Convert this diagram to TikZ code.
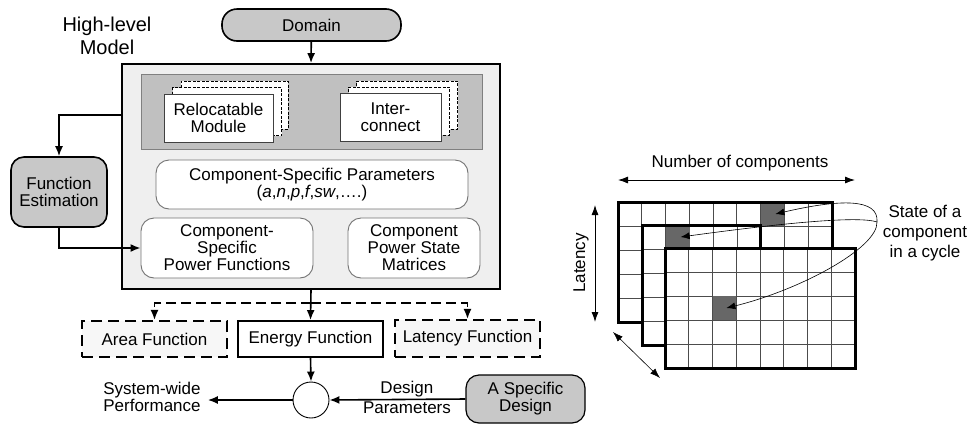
\documentclass[tikz,border=0pt]{standalone}
\usepackage{fontspec}
\setmainfont{Liberation Sans}
\usepackage{xcolor}
\usetikzlibrary{arrows.meta}
\usetikzlibrary{positioning}

\definecolor{panelgray}{HTML}{EFEFEF}
\definecolor{libgray}{HTML}{C0C0C0}
\definecolor{pillgray}{HTML}{C8C8C8}
\definecolor{cellgray}{HTML}{676767}

\begin{document}
\begin{tikzpicture}[x=1pt, y=-1pt,
  every node/.style={font=\fontsize{17}{17}\selectfont, align=center, inner sep=0pt},
  pill/.style={draw, line width=1.6pt, fill=pillgray, rounded corners=15pt},
  frame/.style={draw, line width=1.8pt, fill=panelgray},
  libbox/.style={draw=black!50, line width=0.9pt, fill=libgray},
  stackbox/.style={draw, line width=0.8pt, dash pattern=on 3pt off 1.5pt, fill=white},
  front/.style={draw=black!75, line width=0.9pt, fill=white},
  soft/.style={draw=black!55, line width=0.9pt, fill=white, rounded corners=13pt},
  solidbox/.style={draw, line width=1.8pt, fill=white},
  dashbox/.style={draw, line width=2.2pt, dash pattern=on 11pt off 6pt, fill=white!97!black},
  arr/.style={-{Latex[length=10pt, width=8pt]}, line width=1.6pt},
  darr/.style={-{Latex[length=10pt, width=8pt]}, line width=1.6pt, dash pattern=on 10pt off 5pt},
  dbl/.style={{Latex[length=10pt, width=7pt]}-{Latex[length=10pt, width=7pt]}, line width=0.9pt},
  call/.style={-{Latex[length=9pt, width=7pt]}, line width=0.6pt},
  layer/.style={draw, line width=3pt},
  gridln/.style={draw=black!70, line width=0.7pt},
  cell/.style={fill=cellgray, minimum width=23.75, minimum height=24}
]
\useasboundingbox (0,0) rectangle (969,424);

% High-level model
\node[pill, minimum width=179, minimum height=32] (domain) at (311.5,25) {Domain};
\node[font=\fontsize{20}{23}\selectfont] (hlmtxt) at (107,36) {High-level\\Model};
\node[frame, minimum width=378, minimum height=225] (hlm) at (311,176.5) {};
\node[libbox, minimum width=341, minimum height=75] (lib) at (311.5,111.5) {};

% Stacks of modules
\node[stackbox, minimum width=107, minimum height=48] (relocc) at (234.5,105) {};
\node[stackbox, minimum width=109, minimum height=48] (relocb) at (227,111.5) {};
\node[front, minimum width=109, minimum height=48] (reloc) at (218.5,118) {Relocatable\\Module};
\node[stackbox, minimum width=101, minimum height=48] (interc) at (407,105) {};
\node[stackbox, minimum width=101, minimum height=48] (interb) at (399,111) {};
\node[front, minimum width=101, minimum height=48] (inter) at (390.5,117) {Inter-\\connect};

\node[soft, minimum width=312, minimum height=49] (params) at (312,184.5)
  {Component-Specific Parameters\\(\textit{a},\textit{n},\textit{p},\textit{f},\textit{sw},\dots.)};
\node[soft, minimum width=172, minimum height=60] (powfn) at (227,248) {Component-\\Specific\\Power Functions};
\node[soft, minimum width=132, minimum height=60] (psm) at (414,248) {Component\\Power State\\Matrices};

\node[pill, rounded corners=13pt, minimum width=96, minimum height=70] (fest) at (59,192) {Function\\Estimation};

% Derived functions
\node[dashbox, minimum width=145, minimum height=36] (area) at (154.5,339) {Area Function};
\node[solidbox, minimum width=145, minimum height=36] (energy) at (310.5,339) {Energy Function};
\node[dashbox, minimum width=145, minimum height=37] (latfn) at (467.5,338.5) {Latency Function};

\node[draw, circle, line width=0.9pt, fill=white, minimum size=36] (sum) at (311,400) {};
\node (perf) at (152,397) {System-wide\\Performance};
\node[pill, line width=1.2pt, rounded corners=13pt, minimum width=119, minimum height=48] (spec) at (525.5,399) {A Specific\\Design};

% Connectors
\coordinate (tap) at (122,115);
\coordinate (split) at (311,303);
\draw[arr] (domain) -- (hlm.north);
\draw[arr] (tap) -| (fest.north);
\draw[arr] (fest.south) |- (powfn.west);
\draw[darr] (split) -| (area.north);
\draw[darr] (split) -| (latfn.north);
\draw[arr] (hlm.south) -- (energy.north);
\draw[arr] (energy.south) -- (sum.north);
\draw[arr, shorten >=7pt] (sum.west) -- (perf.east |- sum.west);
\draw[arr] (spec.west) -- node[pos=0.43, above=2pt] (dlab) {Design}
  node[pos=0.43, below=2pt] (plab) {Parameters} (sum.east);

% Layers, back to front
\fill[white] (618,202) rectangle (832,322);
\foreach \i in {1,...,8} \draw[gridln] ({618+23.75*\i},202) -- ({618+23.75*\i},322);
\foreach \j in {1,...,4} \draw[gridln] (618,{202+24*\j}) -- (832,{202+24*\j});
\node[cell] (cback) at ({618+23.75*6.5},214) {};
\draw[layer] (618,202) rectangle (832,322);

\fill[white] (642,225) rectangle (760,345);
\foreach \i in {1,...,4} \draw[gridln] ({642+23.75*\i},225) -- ({642+23.75*\i},345);
\foreach \j in {1,...,4} \draw[gridln] (642,{225+24*\j}) -- (760,{225+24*\j});
\node[cell] (cmid) at ({642+23.75*1.5},237) {};
\draw[layer] (642,225) rectangle (760,345);

\fill[white] (665,248) rectangle (855,368);
\foreach \i in {1,...,7} \draw[gridln] ({665+23.75*\i},248) -- ({665+23.75*\i},368);
\foreach \j in {1,...,4} \draw[gridln] (665,{248+24*\j}) -- (855,{248+24*\j});
\node[cell] (cfront) at ({665+23.75*2.5},308) {};
\draw[layer] (665,248) rectangle (855,368);

% Axes
\node (ncomp) at (740,163) {Number of components};
\node[rotate=90] (lat) at (581,263) {Latency};
\coordinate (ncl) at (618,180);
\coordinate (ncr) at (855,180);
\coordinate (latt) at (595,205);
\coordinate (latb) at (595,322);
\coordinate (dpa) at (613,332);
\coordinate (dpb) at (660,378);
\draw[dbl] (ncl) -- (ncr);
\draw[dbl] (latt) -- (latb);
\draw[dbl, line width=0.6pt] (dpa) -- (dpb);

% Callouts
\node[font=\fontsize{17}{20}\selectfont] (state) at (925,233) {State of a\\component\\in a cycle};
\coordinate (hub) at (877,222);
\draw[call] (hub) .. controls (879,198) and (840,199) .. ([xshift=3pt]cback.center);
\draw[call] (hub) .. controls (860,216) and (790,222) .. ([xshift=3pt]cmid.center);
\draw[call] (hub) .. controls (878,248) and (800,290) .. ([xshift=2pt]cfront.center);
\end{tikzpicture}
\end{document}
